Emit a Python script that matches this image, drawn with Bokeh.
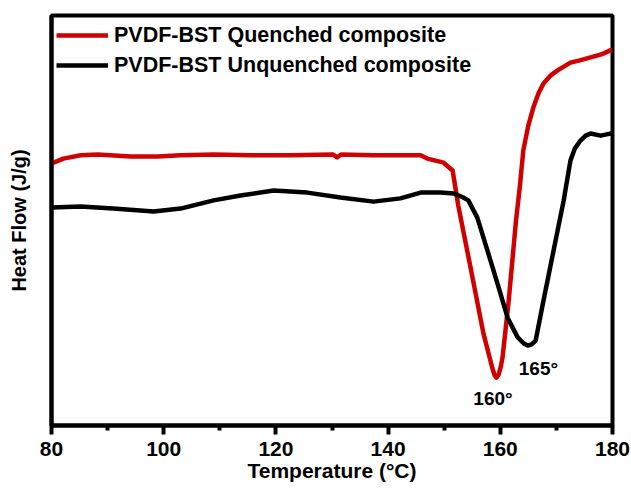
from bokeh.plotting import figure
from bokeh.models import Range1d, FixedTicker, Legend, LegendItem, ColumnDataSource
from bokeh.embed import file_html
from bokeh.resources import INLINE
from bokeh.core.properties import value

# ---- data (heat flow in arbitrary units) ----
quenched_t = [80.0, 82.1, 85.2, 88.2, 94.1, 98.9, 103.0, 108.9, 115.5, 122.5, 130.2, 130.9, 131.6,
              137.4, 145.8, 147.0, 149.9, 151.5, 152.5, 154.7, 157.0, 158.6, 159.0, 159.3, 159.7,
              160.1, 160.4, 161.5, 162.8, 163.5, 164.1, 165.0, 165.9, 166.8, 167.7, 169.0, 170.2,
              172.5, 174.0, 176.1, 178.0, 179.6, 180.0]
quenched_hf = [6.39, 6.51, 6.59, 6.61, 6.56, 6.56, 6.59, 6.61, 6.59, 6.59, 6.61, 6.54, 6.61,
               6.59, 6.59, 6.51, 6.41, 6.22, 5.37, 3.85, 2.24, 1.39, 1.22, 1.17, 1.24,
               1.44, 1.66, 3.05, 5.00, 5.85, 6.71, 7.32, 7.76, 8.10, 8.34, 8.54, 8.66,
               8.85, 8.90, 8.98, 9.05, 9.15, 9.17]

unquenched_t = [80.0, 85.2, 91.0, 98.2, 103.0, 108.9, 113.7, 119.6, 125.6, 131.5, 137.4, 142.2,
                145.8, 149.3, 151.7, 153.4, 154.3, 155.9, 157.7, 159.5, 161.3, 163.1, 164.2,
                164.9, 165.6, 166.3, 167.7, 168.6, 169.5, 170.4, 171.3, 172.5, 173.3, 174.3,
                175.2, 176.1, 177.9, 179.6, 180.0]
unquenched_hf = [5.32, 5.34, 5.29, 5.22, 5.29, 5.49, 5.61, 5.73, 5.68, 5.56, 5.46, 5.54,
                 5.68, 5.68, 5.66, 5.56, 5.49, 5.07, 4.27, 3.46, 2.63, 2.15, 2.00,
                 1.95, 1.98, 2.07, 3.05, 3.66, 4.27, 4.88, 5.49, 6.46, 6.76, 6.95,
                 7.07, 7.12, 7.07, 7.12, 7.12]

series_names = ["PVDF-BST Quenched composite", "PVDF-BST Unquenched composite"]
peak_t = [159.3, 164.9]
peak_hf = [1.17, 1.95]
peak_labels = ["160°", "165°"]

x_ticks = [80, 100, 120, 140, 160, 180]
x_minor = [90, 110, 130, 150, 170]

FONT = "Liberation Sans"
RED = "#d10000"

p = figure(width=631, height=489, output_backend="svg", toolbar_location=None,
           x_range=Range1d(80, 180), y_range=Range1d(0, 10),
           min_border_left=51, min_border_right=19, min_border_top=15, min_border_bottom=64)
p.background_fill_color = "white"
p.border_fill_color = "white"
p.outline_line_color = "black"
p.outline_line_width = 4
p.xgrid.visible = False
p.ygrid.visible = False

r1 = p.line(quenched_t, quenched_hf, line_color=RED, line_width=4.5, line_join="round")
r2 = p.line(unquenched_t, unquenched_hf, line_color="black", line_width=4.5, line_join="round")

# peak annotations
src = ColumnDataSource(dict(x=peak_t, y=peak_hf, t=peak_labels, dx=[-23, -9], dy=[21, 23]))
p.text(x="x", y="y", text="t", x_offset="dx", y_offset="dy", source=src,
       text_font=value(FONT), text_font_style="bold", text_font_size="19px",
       text_align="left", text_baseline="alphabetic", text_color="black")

# x axis
xa = p.xaxis[0]
xa.ticker = FixedTicker(ticks=x_ticks, minor_ticks=x_minor)
xa.axis_line_width = 4
xa.major_tick_line_width = 4
xa.minor_tick_line_width = 4
xa.major_tick_out = 9
xa.major_tick_in = 0
xa.minor_tick_out = 5
xa.minor_tick_in = 0
xa.major_label_standoff = 7
xa.major_label_text_font = FONT
xa.major_label_text_font_style = "bold"
xa.major_label_text_font_size = "21px"
xa.major_label_text_color = "black"
xa.axis_label = "Temperature (°C)"
xa.axis_label_text_font = FONT
xa.axis_label_text_font_style = "bold"
xa.axis_label_text_font_size = "21px"
xa.axis_label_text_color = "black"
xa.axis_label_standoff = 0

# y axis (no ticks)
ya = p.yaxis[0]
ya.ticker = FixedTicker(ticks=[])
ya.axis_line_width = 4
ya.axis_label = "Heat Flow (J/g)"
ya.axis_label_text_font = FONT
ya.axis_label_text_font_style = "bold"
ya.axis_label_text_font_size = "20px"
ya.axis_label_text_color = "black"
ya.axis_label_standoff = 22

legend = Legend(items=[LegendItem(label=series_names[0], renderers=[r1]),
                       LegendItem(label=series_names[1], renderers=[r2])],
                location="top_left")
legend.border_line_color = None
legend.background_fill_alpha = 0
legend.margin = 5
legend.padding = 4
legend.spacing = 0
legend.glyph_width = 52
legend.glyph_height = 30
legend.label_height = 30
legend.label_standoff = 6
legend.label_text_font = FONT
legend.label_text_font_style = "bold"
legend.label_text_font_size = "21.5px"
legend.label_text_color = "black"
p.add_layout(legend)

open("out.html", "w").write(file_html(p, INLINE))
